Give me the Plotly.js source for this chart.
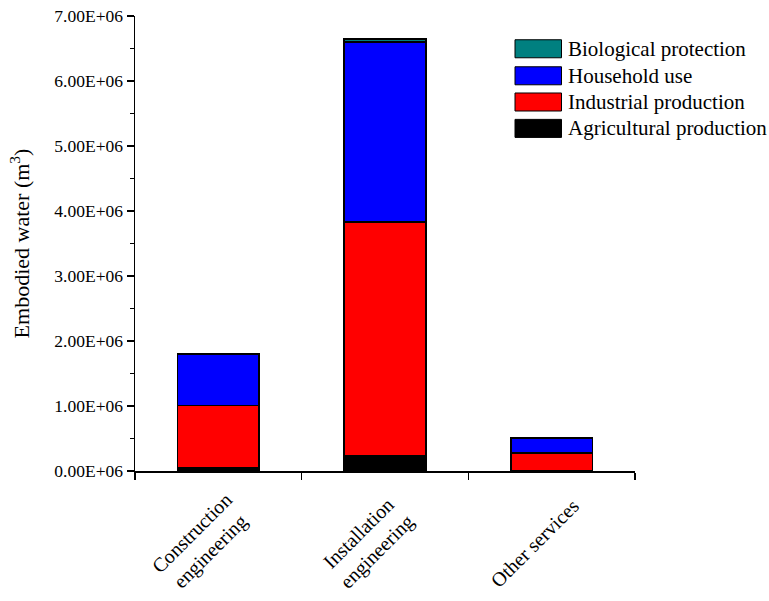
<!DOCTYPE html>
<html>
<head>
<meta charset="utf-8">
<script src="https://cdn.plot.ly/plotly-3.0.1.min.js"></script>
<style>html,body{margin:0;padding:0;background:#fff;}#chart{width:769px;height:601px;}</style>
</head>
<body>
<div id="chart"></div>
<script>
const categories = ['Construction engineering', 'Installation engineering', 'Other services'];
const categoryLabels = ['Construction<br>engineering', 'Installation<br>engineering', 'Other services'];
const seriesNames = ['Agricultural production', 'Industrial production', 'Household use', 'Biological protection'];
const seriesColors = ['#000000', '#FF0000', '#0000FF', '#008080'];
const agricultural = [50000, 230000, 5000];
const industrial = [960000, 3600000, 275000];
const household = [785000, 2770000, 230000];
const biological = [12000, 45000, 3000];
const yTickVals = [0, 1e6, 2e6, 3e6, 4e6, 5e6, 6e6, 7e6];
const yTickLabels = ['0.00E+06', '1.00E+06', '2.00E+06', '3.00E+06', '4.00E+06', '5.00E+06', '6.00E+06', '7.00E+06'];

const seriesValues = [agricultural, industrial, household, biological];
const font = 'Liberation Serif';

const traces = seriesValues.map((vals, i) => ({
  type: 'bar',
  name: seriesNames[i],
  x: categories,
  y: vals,
  width: 0.49,
  marker: {color: seriesColors[i], line: {color: '#000000', width: 1.4}},
  showlegend: false,
  hoverinfo: 'none'
}));

const shapes = [];
const annotations = [];

// category labels, rotated and centred like the original
categories.forEach((c, i) => {
  annotations.push({
    xref: 'x', yref: 'paper', x: c, y: -0.158, xshift: -17,
    xanchor: 'center', yanchor: 'middle', showarrow: false,
    textangle: -45, align: 'center',
    text: categoryLabels[i], font: {family: font, size: 20, color: '#000'}
  });
});

// custom legend (top to bottom: reversed series order)
const legendY = [0.928, 0.8686, 0.811, 0.753];
for (let k = 0; k < 4; k++) {
  const i = 3 - k;
  shapes.push({
    type: 'rect', xref: 'paper', yref: 'paper',
    x0: 0.76, x1: 0.853, y0: legendY[k] - 0.0198, y1: legendY[k] + 0.0198,
    fillcolor: seriesColors[i], line: {color: '#000000', width: 1}
  });
  annotations.push({
    xref: 'paper', yref: 'paper', x: 0.862, y: legendY[k],
    xanchor: 'left', yanchor: 'middle', showarrow: false,
    text: seriesNames[i], font: {family: font, size: 21, color: '#000'}
  });
}

const layout = {
  width: 769, height: 601,
  margin: {l: 135, r: 134, t: 16, b: 130},
  paper_bgcolor: '#fff', plot_bgcolor: '#fff',
  barmode: 'stack',
  showlegend: false,
  font: {family: font, color: '#000'},
  xaxis: {
    type: 'category',
    range: [-0.5, 2.5],
    showline: true, linecolor: '#000', linewidth: 1.5,
    ticks: 'outside', ticklen: 7, tickwidth: 1.5, tickcolor: '#000',
    tickson: 'boundaries',
    showticklabels: false,
    showgrid: false, zeroline: false
  },
  yaxis: {
    range: [0, 7e6],
    showline: true, linecolor: '#000', linewidth: 1.5,
    ticks: 'outside', ticklen: 7, tickwidth: 1.5, tickcolor: '#000',
    tickmode: 'array', tickvals: yTickVals, ticktext: yTickLabels,
    tickfont: {family: font, size: 17.5, color: '#000'},
    minor: {dtick: 5e5, ticks: 'outside', ticklen: 4, tickwidth: 1.2, tickcolor: '#000', showgrid: false},
    showgrid: false, zeroline: false,
    title: {text: 'Embodied water (m<sup>3</sup>)', font: {family: font, size: 22, color: '#000'}, standoff: 18}
  },
  shapes: shapes,
  annotations: annotations
};

Plotly.newPlot('chart', traces, layout, {displayModeBar: false, staticPlot: true});
</script>
</body>
</html>
